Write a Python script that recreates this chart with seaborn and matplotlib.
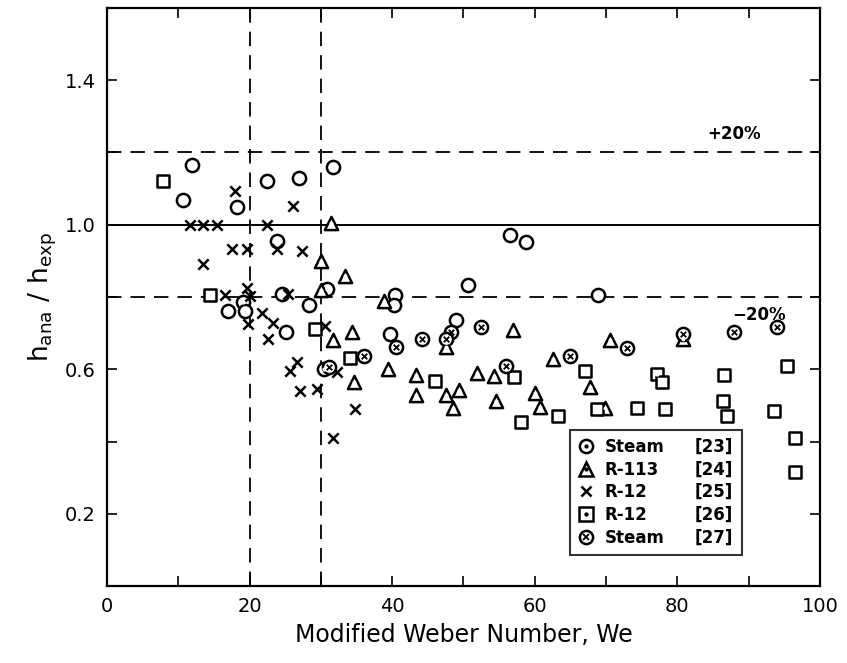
import pandas as pd
import matplotlib.pyplot as plt
import seaborn as sns
from matplotlib.lines import Line2D
from matplotlib.legend_handler import HandlerTuple
from matplotlib.ticker import MultipleLocator, FixedLocator

# Steam [23]
steam23_x = [11.9, 10.6, 18.2, 22.4, 26.9, 31.7, 23.9, 30.8, 28.3, 19.1, 19.4, 17.0, 24.5,
             25.1, 30.5, 39.7, 40.4, 40.2, 49.0, 50.7, 56.5, 58.8, 68.9]
steam23_y = [1.166, 1.068, 1.05, 1.12, 1.13, 1.16, 0.955, 0.822, 0.778, 0.785, 0.76, 0.76, 0.807,
             0.704, 0.60, 0.697, 0.805, 0.777, 0.737, 0.832, 0.973, 0.953, 0.805]

# R-113 [24]
r113_x = [31.4, 30.0, 33.4, 30.0, 31.7, 34.3, 38.8, 39.4, 34.6, 47.5, 43.3, 43.4, 47.5, 49.4,
          48.5, 51.9, 54.3, 54.6, 57.0, 62.5, 60.0, 60.7, 67.7, 69.8, 70.5, 80.8]
r113_y = [1.005, 0.90, 0.858, 0.82, 0.682, 0.702, 0.789, 0.60, 0.565, 0.663, 0.585, 0.53, 0.53, 0.542,
          0.492, 0.589, 0.582, 0.513, 0.709, 0.629, 0.534, 0.496, 0.552, 0.494, 0.681, 0.685]

# R-12 [25]
r12a_x = [18.0, 26.1, 11.6, 13.5, 15.4, 22.4, 17.5, 19.6, 23.8, 27.4, 13.5, 19.6, 16.5, 20.1,
          25.4, 21.7, 23.3, 19.8, 22.6, 30.6, 26.6, 25.7, 32.2, 27.1, 29.4, 34.8, 31.7]
r12a_y = [1.093, 1.052, 1.0, 1.0, 1.0, 1.0, 0.932, 0.932, 0.932, 0.927, 0.891, 0.826, 0.806, 0.803,
          0.807, 0.757, 0.729, 0.725, 0.684, 0.72, 0.619, 0.596, 0.593, 0.54, 0.545, 0.49, 0.41]

# R-12 [26]
r12b_x = [7.9, 14.5, 29.2, 34.1, 46.0, 57.1, 58.1, 63.2, 67.1, 68.7, 74.3, 78.3, 77.1, 77.8,
          86.5, 86.4, 87.0, 95.4, 93.5, 96.5, 96.5]
r12b_y = [1.12, 0.806, 0.711, 0.63, 0.567, 0.58, 0.455, 0.47, 0.596, 0.49, 0.492, 0.49, 0.587, 0.564,
          0.585, 0.513, 0.47, 0.608, 0.485, 0.41, 0.317]

# Steam [27]
steam27_x = [36.0, 31.2, 40.6, 44.2, 48.3, 47.6, 52.5, 56.0, 64.9, 72.9, 80.8, 88.0, 94.0]
steam27_y = [0.637, 0.605, 0.663, 0.684, 0.702, 0.685, 0.718, 0.61, 0.637, 0.66, 0.697, 0.704, 0.716]

names = ["Steam", "R-113", "R-12", "R-12", "Steam"]
refs = ["[23]", "[24]", "[25]", "[26]", "[27]"]

frames = []
for i, (xs, ys) in enumerate([(steam23_x, steam23_y), (r113_x, r113_y), (r12a_x, r12a_y),
                              (r12b_x, r12b_y), (steam27_x, steam27_y)]):
    frames.append(pd.DataFrame({"We": xs, "ratio": ys, "set": refs[i]}))
df = pd.concat(frames, ignore_index=True)

# marker: (outer, inner, outer size, inner size)
styles = {
    "[23]": ("o", ".", 90, 12),
    "[24]": ("^", ".", 90, 9),
    "[25]": ("x", None, 55, 0),
    "[26]": ("s", ".", 75, 12),
    "[27]": ("o", "x", 90, 16),
}

sns.set_theme(style="ticks")
plt.rcParams['font.family'] = ['DejaVu Sans']
plt.rcParams['text.color'] = 'black'
plt.rcParams['axes.labelcolor'] = 'black'

fig = plt.figure(figsize=(8.47, 6.63), dpi=100)
ax = fig.add_axes([0.1263, 0.116, 0.8418, 0.872])

# reference lines
ax.axhline(1.0, color="black", lw=1.4)
ax.axhline(1.2, color="black", lw=1.3, ls=(0, (8, 5)))
ax.axhline(0.8, color="black", lw=1.3, ls=(0, (8, 5)))
ax.axvline(20, color="black", lw=1.3, ls=(0, (8, 5)))
ax.axvline(30, color="black", lw=1.3, ls=(0, (8, 5)))

for key, (outer, inner, s_out, s_in) in styles.items():
    sub = df[df["set"] == key]
    if outer == "x":
        sns.scatterplot(data=sub, x="We", y="ratio", marker="x", s=s_out, color="black",
                        linewidth=1.8, ax=ax, zorder=3)
    else:
        sns.scatterplot(data=sub, x="We", y="ratio", marker=outer, s=s_out, facecolor="white",
                        edgecolor="black", linewidth=1.8, ax=ax, zorder=3)
        sns.scatterplot(data=sub, x="We", y="ratio", marker=inner, s=s_in, color="black",
                        linewidth=1.3, ax=ax, zorder=4)

ax.set_xlim(0, 100)
ax.set_ylim(0, 1.6)
ax.xaxis.set_major_locator(MultipleLocator(10))
ax.set_xticklabels(["" if int(round(v)) % 20 else str(int(round(v))) for v in ax.get_xticks()])
ax.yaxis.set_major_locator(FixedLocator([0.2, 0.4, 0.6, 0.8, 1.0, 1.2, 1.4]))
ax.set_yticklabels(["0.2", "", "0.6", "", "1.0", "", "1.4"])
ax.tick_params(direction="in", length=7, width=1.2, labelsize=14, top=True, right=True,
               colors="black", pad=8)
for sp in ax.spines.values():
    sp.set_linewidth(1.6)
    sp.set_color("black")

ax.text(88, 1.225, "+20%", fontsize=12, fontweight="bold", ha="center", va="bottom")
ax.text(91.5, 0.775, "\u221220%", fontsize=12, fontweight="bold", ha="center", va="top")

ax.set_xlabel("Modified Weber Number, We", fontsize=17, labelpad=5)
ax.set_ylabel(r"$\mathrm{h_{ana}\ /\ h_{exp}}$", fontsize=19, labelpad=4)

# legend with two text columns
handles = []
for key in refs:
    outer, inner, s_out, s_in = styles[key]
    if outer == "x":
        handles.append(Line2D([], [], marker="x", ls="none", color="black", ms=7, mew=1.8))
    else:
        h1 = Line2D([], [], marker=outer, ls="none", mfc="white", mec="black", ms=9.5, mew=1.8)
        h2 = Line2D([], [], marker=inner, ls="none", color="black", ms=(3.5 if inner == "." else 4.5), mew=1.3)
        handles.append((h1, h2))
blank = [Line2D([], [], ls="none") for _ in refs]
leg = ax.legend(handles + blank, names + refs, ncol=2, loc="lower left",
                bbox_to_anchor=(0.649, 0.054, 0.241, 0.207), mode="expand", borderaxespad=0,
                handler_map={tuple: HandlerTuple(ndivide=1)},
                prop={"size": 12, "weight": "bold"}, frameon=True, fancybox=False,
                edgecolor="black", handlelength=1.0, handletextpad=0.6, columnspacing=0.2,
                labelspacing=0.28, borderpad=0.5)
leg.get_frame().set_linewidth(1.5)

plt.savefig("out.png", dpi=100)
